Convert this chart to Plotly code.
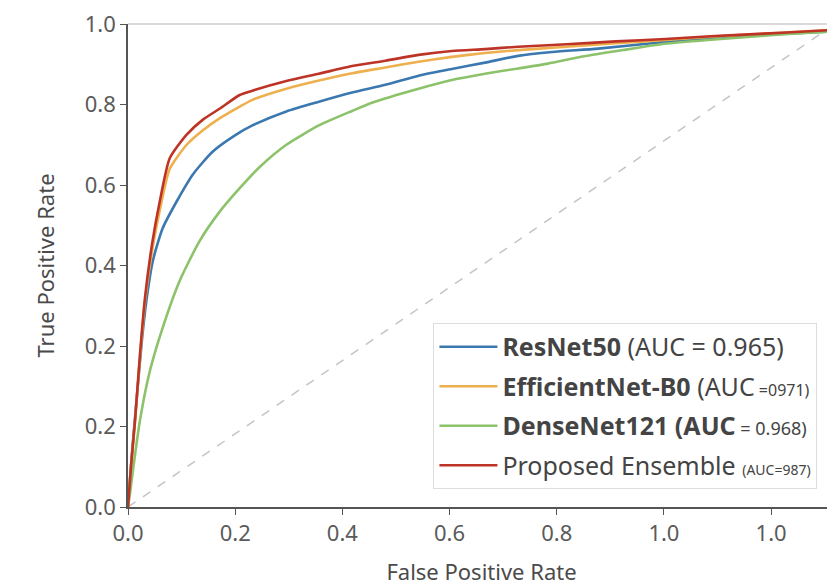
import plotly.graph_objects as go

# ---- data ----
fpr_resnet = [0, 0.005, 0.012, 0.02, 0.026, 0.035, 0.049, 0.069, 0.092, 0.12, 0.153, 0.176, 0.224, 0.27,
              0.317, 0.364, 0.411, 0.458, 0.505, 0.552, 0.6, 0.665, 0.76, 0.85, 0.93, 1.0]
tpr_resnet = [0, 0.1, 0.22, 0.35, 0.427, 0.509, 0.577, 0.633, 0.689, 0.736, 0.771, 0.79, 0.819, 0.839,
              0.858, 0.874, 0.893, 0.907, 0.92, 0.934, 0.942, 0.949, 0.963, 0.973, 0.98, 0.985]

fpr_effnet = [0, 0.004, 0.01, 0.017, 0.024, 0.034, 0.045, 0.059, 0.083, 0.106, 0.13, 0.158, 0.176, 0.224,
              0.27, 0.317, 0.364, 0.411, 0.458, 0.505, 0.552, 0.62, 0.69, 0.76, 0.83, 0.9, 0.95, 1.0]
tpr_effnet = [0, 0.08, 0.18, 0.31, 0.425, 0.53, 0.615, 0.70, 0.75, 0.78, 0.805, 0.829, 0.843, 0.866,
              0.883, 0.898, 0.91, 0.922, 0.932, 0.94, 0.946, 0.953, 0.96, 0.967, 0.974, 0.98, 0.984, 0.988]

fpr_densenet = [0, 0.003, 0.007, 0.017, 0.031, 0.049, 0.073, 0.101, 0.13, 0.158, 0.187, 0.224, 0.27, 0.317,
                0.347, 0.411, 0.458, 0.505, 0.552, 0.594, 0.641, 0.70, 0.759, 0.82, 0.876, 0.94, 1.0]
tpr_densenet = [0, 0.03, 0.076, 0.18, 0.282, 0.371, 0.468, 0.55, 0.612, 0.66, 0.705, 0.75, 0.79, 0.82,
                0.838, 0.866, 0.884, 0.897, 0.908, 0.918, 0.932, 0.946, 0.959, 0.967, 0.973, 0.98, 0.985]

fpr_ensemble = [0, 0.004, 0.01, 0.017, 0.024, 0.034, 0.045, 0.059, 0.083, 0.106, 0.13, 0.158, 0.176, 0.224,
                0.27, 0.317, 0.364, 0.411, 0.458, 0.505, 0.552, 0.62, 0.69, 0.76, 0.83, 0.9, 0.95, 1.0]
tpr_ensemble = [0, 0.08, 0.18, 0.317, 0.433, 0.544, 0.633, 0.722, 0.771, 0.802, 0.825, 0.853, 0.862, 0.882,
                0.897, 0.913, 0.924, 0.936, 0.944, 0.948, 0.953, 0.958, 0.964, 0.969, 0.975, 0.98, 0.984, 0.988]

chance = [0, 1]

labels = [
    "<b>ResNet50</b> (AUC = 0.965)",
    "<b>EfficientNet-B0</b> (AUC<span style='font-size:16px'> =0971)</span>",
    "<b>DenseNet121 (AUC</b><span style='font-size:18px'> = 0.968)</span>",
    "Proposed Ensemble <span style='font-size:14px'>(AUC=987)</span>",
]
colors = ["#3b78b0", "#eeb04e", "#8cc26a", "#bd3325"]

x_tickvals = [0, 0.1516, 0.3032, 0.4548, 0.6064, 0.758, 0.9096]
x_ticktext = ["0.0", "0.2", "0.4", "0.6", "0.8", "1.0", "1.0"]
y_tickvals = [0, 1/6, 2/6, 3/6, 4/6, 5/6, 1]
y_ticktext = ["0.0", "0.2", "0.2", "0.4", "0.6", "0.8", "1.0"]

fig = go.Figure()

fig.add_trace(go.Scatter(x=chance, y=chance, mode="lines", showlegend=False,
                         line=dict(color="#c4c4c4", width=1.5, dash="dash")))

series = [(fpr_resnet, tpr_resnet), (fpr_effnet, tpr_effnet),
          (fpr_densenet, tpr_densenet), (fpr_ensemble, tpr_ensemble)]
for i, ((fx, ty), name, c) in enumerate(zip(series, labels, colors)):
    fig.add_trace(go.Scatter(x=fx, y=ty, mode="lines", name=name, legendgroup=f"g{i}",
                             line=dict(color=c, width=2.6, shape="spline", smoothing=0.6)))

FONT = "Noto Sans, Open Sans, sans-serif"
tick_font = dict(family=FONT, size=22, color="#5a5a5a")
title_font = dict(family=FONT, size=22, color="#4a4a4a")

fig.update_layout(
    width=827, height=579,
    margin=dict(l=120, r=0, t=14, b=80),
    paper_bgcolor="white", plot_bgcolor="white",
    font=dict(family=FONT, size=22, color="#444444"),
    xaxis=dict(range=[0, 1], tickvals=x_tickvals, ticktext=x_ticktext, showgrid=False,
               zeroline=False, showline=True, linecolor="#555555", linewidth=1.5,
               ticks="outside", ticklen=6, tickcolor="#555555", tickfont=tick_font,
               ticklabeloverflow="allow",
               title=dict(text="False Positive Rate", font=title_font, standoff=18)),
    yaxis=dict(range=[0, 1], tickvals=y_tickvals, ticktext=y_ticktext, showgrid=False,
               zeroline=False, showline=True, linecolor="#555555", linewidth=1.5,
               ticks="outside", ticklen=6, tickcolor="#555555", tickfont=tick_font,
               ticklabeloverflow="allow",
               title=dict(text="True Positive Rate", font=title_font, standoff=24)),
    legend=dict(x=0.432, y=0.381, xanchor="left", yanchor="top",
                bgcolor="white", bordercolor="#dddddd", borderwidth=1,
                font=dict(family=FONT, size=25, color="#444444"),
                tracegroupgap=4, itemwidth=58),
    shapes=[dict(type="line", xref="paper", yref="paper", x0=0, x1=1, y0=1, y1=1,
                 layer="above", line=dict(color="#cccccc", width=1.5))],
)

fig.write_html("out.html")
